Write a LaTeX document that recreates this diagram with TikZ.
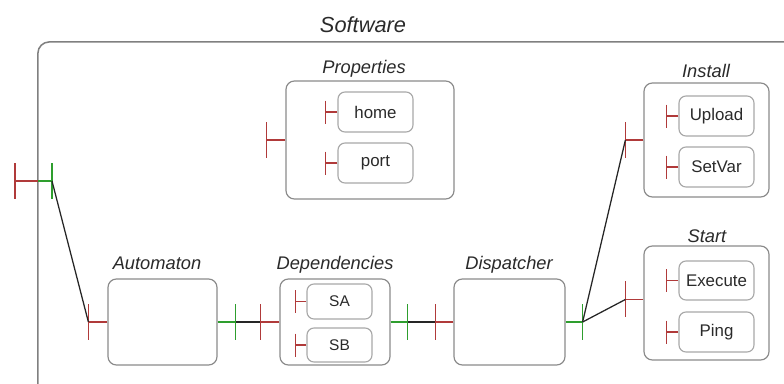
\documentclass[tikz,border=0pt]{standalone}
\usepackage{fontspec}
\setmainfont{Liberation Sans}
\usepackage{xcolor}
\usetikzlibrary{positioning}
\definecolor{portred}{HTML}{B03A3A}
\definecolor{portgreen}{HTML}{2E9E2E}
\definecolor{boxgray}{HTML}{8A8A8A}
\definecolor{innergray}{HTML}{A8A8A8}
\definecolor{txtgray}{HTML}{2A2A2A}
\tikzset{
  box/.style={draw=boxgray, line width=0.85pt, rounded corners=6pt, inner sep=0pt},
  inbox/.style={draw=innergray, line width=0.8pt, rounded corners=5pt, inner sep=0pt,
    text=txtgray, font=\fontsize{12}{14}\selectfont},
  title/.style={font=\fontsize{13}{15}\selectfont\itshape, text=txtgray, anchor=base, inner sep=0pt},
  req/.style={draw=portred, line width=1.15pt},
  prov/.style={draw=portgreen, line width=1.15pt},
  wire/.style={draw=black!85, line width=0.9pt}
}

\begin{document}
\begin{tikzpicture}[x=0.025cm, y=-0.025cm]
        \useasboundingbox (0,0) rectangle (784,383);
        \clip (0,0) rectangle (784,383);

        % outer box
        \node[box, draw=gray, line width=1.1pt, rounded corners=8pt, minimum width=19.55cm, minimum height=9.45cm] (software) at (429,231) {};
        \node[title, font=\fontsize{15.5}{18}\selectfont\itshape] (softwaretitle) at (363,32) {Software};

        % boxes
        \node[box, minimum width=2.725cm, minimum height=2.15cm] (automaton) at (162.5,322) {};
        \node[box, minimum width=2.75cm, minimum height=2.15cm] (dependencies) at (335,322) {};
        \node[box, minimum width=2.775cm, minimum height=2.15cm] (dispatcher) at (509.5,322) {};
        \node[box, minimum width=4.2cm, minimum height=2.95cm] (properties) at (370,140) {};
        \node[box, minimum width=3.125cm, minimum height=2.85cm] (install) at (706.5,140) {};
        \node[box, minimum width=3.125cm, minimum height=2.85cm] (start) at (706.5,303) {};

        \node[title] (automatontitle) at (157,269) {Automaton};
        \node[title] (dependenciestitle) at (335,269) {Dependencies};
        \node[title] (dispatchertitle) at (509,269) {Dispatcher};
        \node[title] (propertiestitle) at (364,73) {Properties};
        \node[title] (installtitle) at (706,77) {Install};
        \node[title] (starttitle) at (707,242) {Start};

        % inner boxes
        \node[inbox, font=\fontsize{11}{13}\selectfont, minimum width=1.625cm, minimum height=0.875cm] (sa) at (339.5,301.5) {SA};
        \node[inbox, font=\fontsize{11}{13}\selectfont, minimum width=1.625cm, minimum height=0.85cm] (sb) at (339.5,345) {SB};
        \node[inbox, minimum width=1.875cm, minimum height=1cm] (home) at (375.5,112) {home};
        \node[inbox, minimum width=1.875cm, minimum height=1cm] (port) at (375.5,163) {port};
        \node[inbox, minimum width=1.875cm, minimum height=1cm] (upload) at (716.5,116) {Upload};
        \node[inbox, minimum width=1.875cm, minimum height=1cm] (setvar) at (716.5,167) {SetVar};
        \node[inbox, minimum width=1.875cm, minimum height=0.975cm] (execute) at (716.5,280.5) {Execute};
        \node[inbox, minimum width=1.875cm, minimum height=1cm] (ping) at (716.5,332) {Ping};

        % ports of the outer box
        \coordinate (swedge) at (38,181);
        \draw[req] (swedge) -- ++(-23,0) ++(0,-18) -- ++(0,36);
        \draw[prov] (swedge) -- ++(14,0) coordinate (swout) ++(0,-18) -- ++(0,36);

        % ports
        \draw[req] (automaton.west) -- ++(-19,0) coordinate (automatonin) ++(0,-18) -- ++(0,36);
        \draw[prov] (automaton.east) -- ++(18,0) coordinate (automatonout) ++(0,-18) -- ++(0,36);
        \draw[req] (dependencies.west) -- ++(-19,0) coordinate (dependenciesin) ++(0,-18) -- ++(0,36);
        \draw[prov] (dependencies.east) -- ++(17,0) coordinate (dependenciesout) ++(0,-18) -- ++(0,36);
        \draw[req] (dispatcher.west) -- ++(-18,0) coordinate (dispatcherin) ++(0,-18) -- ++(0,36);
        \draw[prov] (dispatcher.east) -- ++(17,0) coordinate (dispatcherout) ++(0,-18) -- ++(0,36);
        \draw[req] (properties.west) -- ++(-19,0) coordinate (propertiesin) ++(0,-18) -- ++(0,36);
        \draw[req] (install.west) -- ++(-18,0) coordinate (installin) ++(0,-18) -- ++(0,36);
        \draw[req] ([yshift=2.5pt]start.west) -- ++(-18,0) coordinate (startin) ++(0,-18) -- ++(0,36);

        \draw[req] (sa.west) -- ++(-11,0) ++(0,-11.5) -- ++(0,23);
        \draw[req] (sb.west) -- ++(-11,0) ++(0,-11.5) -- ++(0,23);
        \draw[req] (home.west) -- ++(-12,0) ++(0,-11.5) -- ++(0,23);
        \draw[req] (port.west) -- ++(-12,0) ++(0,-11.5) -- ++(0,23);
        \draw[req] (upload.west) -- ++(-12,0) ++(0,-11.5) -- ++(0,23);
        \draw[req] (setvar.west) -- ++(-12,0) ++(0,-11.5) -- ++(0,23);
        \draw[req] (execute.west) -- ++(-12,0) ++(0,-11.5) -- ++(0,23);
        \draw[req] (ping.west) -- ++(-12,0) ++(0,-11.5) -- ++(0,23);

        % connectors
        \draw[wire] (swout) -- (automatonin);
        \draw[wire] (automatonout) -- (dependenciesin);
        \draw[wire] (dependenciesout) -- (dispatcherin);
        \draw[wire] (dispatcherout) -- (installin);
        \draw[wire] (dispatcherout) -- (startin);

    \end{tikzpicture}
\end{document}
